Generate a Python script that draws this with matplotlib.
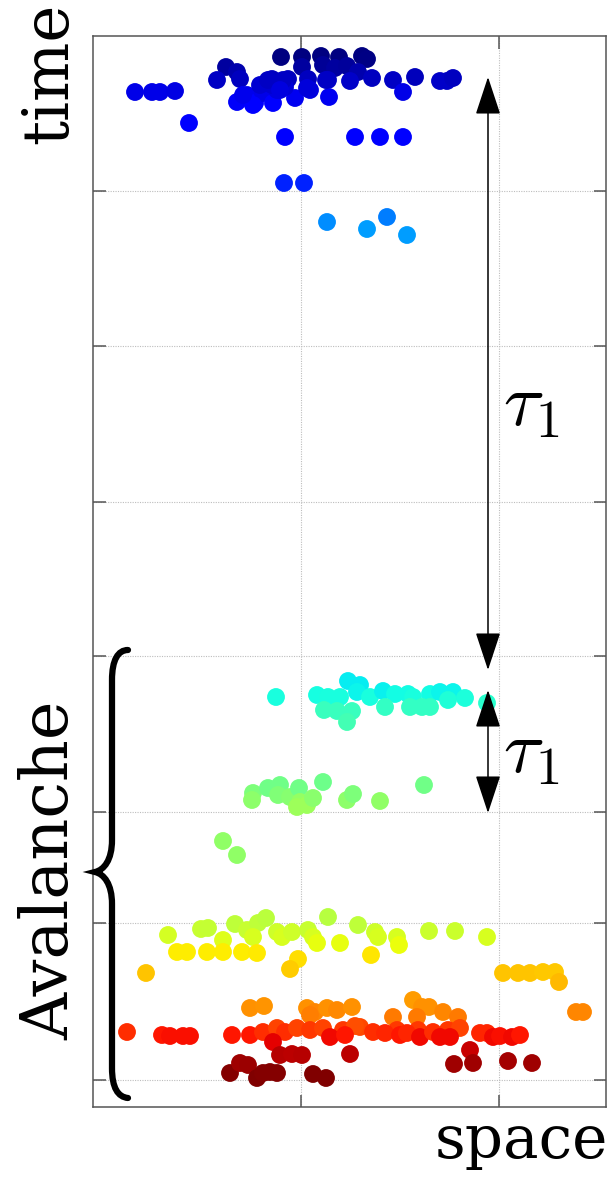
import numpy as np
import matplotlib.pyplot as plt
from matplotlib.path import Path
from matplotlib.patches import PathPatch

# Event positions (space, time); time axis runs downward
burst1_x = [281, 302, 321, 339, 362, 367, 302, 323, 335, 347, 358,
            226, 237, 217, 240, 272, 288, 308, 328, 350, 372, 393, 415, 403,
            440, 447, 453, 135, 152, 160, 175,
            237, 247, 255, 263, 273, 277, 295, 310, 329, 272, 285, 253, 243,
            260, 268, 283, 280, 307, 326,
            189, 285, 355, 380, 403, 284, 304, 327, 367, 387, 407]
burst1_t = [57, 57, 56, 57, 56, 59, 67, 65, 68, 66, 72,
            67, 72, 80, 79, 79, 79, 79, 80, 81, 78, 80, 77, 92,
            81, 81, 78, 92, 92, 92, 91,
            102, 95, 103, 93, 103, 90, 98, 90, 97, 85, 87, 105, 95,
            85, 80, 80, 90, 88, 80,
            123, 137, 137, 137, 137, 183, 183, 222, 229, 217, 235]

burst2_x = [276, 317, 328, 340, 348, 360, 357, 370, 383, 395, 408, 413,
            430, 440, 453, 448, 465, 487,
            324, 337, 352, 347, 385, 410, 422, 430,
            253, 252, 268, 280, 278, 290, 299, 300, 307, 313, 297, 323,
            347, 353, 380, 424, 223, 237]
burst2_t = [697, 695, 697, 697, 681, 685, 692, 697, 691, 694, 694, 697,
            694, 692, 692, 700, 698, 703,
            710, 711, 711, 722, 707, 707, 707, 707,
            793, 800, 788, 785, 795, 797, 788, 802, 805, 798, 807, 782,
            800, 794, 801, 785, 841, 855]

burst3_x = [168, 201, 208, 235, 247, 258, 266, 253, 277, 282, 292, 308,
            313, 317, 328, 340, 223, 358, 375, 378, 397, 399, 429, 455, 487, 371,
            177, 187, 207, 223, 242, 257, 298, 290, 146,
            503, 518, 530, 543, 555, 559, 576, 583,
            250, 264, 307, 315, 327, 337, 352, 310,
            413, 422, 429, 443, 458, 393, 417, 360, 397, 418, 448, 460,
            127, 162, 170, 183, 190, 232, 250, 263, 277, 285, 297, 310,
            323, 343, 355, 330, 345, 273,
            373, 385, 400, 407, 420, 433, 440, 450, 480, 487, 493, 500, 512, 520,
            280, 292, 302, 350, 230, 240, 248, 257, 263, 277, 270, 313, 326,
            470, 473, 454, 508, 532]
burst3_t = [935, 929, 928, 924, 930, 923, 918, 937, 932, 937, 932, 930,
            937, 943, 917, 943, 940, 925, 932, 937, 937, 945, 931, 931, 937, 955,
            952, 952, 952, 952, 952, 953, 959, 969, 973,
            973, 973, 973, 972, 972, 982, 1012, 1012,
            1008, 1006, 1008, 1012, 1008, 1010, 1007, 1015,
            1000, 1007, 1007, 1012, 1017, 1017, 1017, 1027, 1030, 1030, 1030, 1028,
            1032, 1035, 1036, 1036, 1036, 1035, 1035, 1032, 1028, 1032, 1028, 1030,
            1028, 1030, 1026, 1037, 1035, 1042,
            1032, 1033, 1035, 1033, 1037, 1032, 1037, 1037, 1033, 1033, 1037, 1036, 1037, 1035,
            1055, 1054, 1055, 1054, 1073, 1063, 1065, 1078, 1073, 1073, 1072, 1074, 1078,
            1050, 1063, 1064, 1061, 1063]

# colour scale (jet level) along time
color_t = [56, 80, 92, 103, 137, 183, 229, 690, 710, 790, 805, 850,
           925, 940, 952, 973, 1005, 1017, 1032, 1037, 1055, 1075]
color_lv = [0.0, 0.06, 0.09, 0.11, 0.12, 0.16, 0.28, 0.36, 0.42, 0.49, 0.54, 0.52,
            0.58, 0.62, 0.66, 0.70, 0.75, 0.78, 0.86, 0.90, 0.95, 1.0]

x_ticks = [301, 499]
t_ticks = [191, 346, 502, 656, 812, 923, 1080]

xs = np.array(burst1_x + burst2_x + burst3_x, dtype=float)
ts = np.array(burst1_t + burst2_t + burst3_t, dtype=float)
cs = np.interp(ts, color_t, color_lv)

plt.rcParams['font.family'] = 'DejaVu Serif'
plt.rcParams['mathtext.fontset'] = 'cm'

fig = plt.figure(figsize=(6.11, 11.78), dpi=100)
ax = fig.add_axes([93 / 611, 71 / 1178, 513 / 611, 1071 / 1178])
ax.set_xlim(93, 606)
ax.set_ylim(1107, 36)

ax.scatter(xs, ts, c=cs, cmap='jet', vmin=0, vmax=1, s=165, linewidths=0, zorder=3)

ax.set_xticks(x_ticks)
ax.set_yticks(t_ticks)
ax.tick_params(direction='in', length=9, width=1.1, colors='#555555',
               top=True, right=True, labelleft=False, labelbottom=False)
ax.grid(True, linestyle=(0, (1, 1.2)), color='#bdbdbd', linewidth=0.8)
for s in ax.spines.values():
    s.set_color('#555555')
    s.set_linewidth(1.1)

# interval arrows
arrow_kw = dict(arrowstyle='<|-|>,head_length=1.0,head_width=0.33', mutation_scale=24,
                color='black', lw=1.1, shrinkA=0, shrinkB=0)
ax.annotate('', xy=(488, 77), xytext=(488, 670), arrowprops=arrow_kw, zorder=4)
ax.annotate('', xy=(488, 690), xytext=(488, 813), arrowprops=arrow_kw, zorder=4)
ax.text(503, 405, r'$\tau_1$', fontsize=54, ha='left', va='center')
ax.text(503, 752, r'$\tau_1$', fontsize=54, ha='left', va='center')

# curly brace for the avalanche
verts = [(128, 650), (118, 650), (112, 660), (112, 680),
         (112, 840),
         (112, 860), (104, 870), (95, 872),
         (104, 874), (112, 884), (112, 904),
         (112, 1068),
         (112, 1088), (118, 1097), (128, 1098)]
codes = [Path.MOVETO, Path.CURVE4, Path.CURVE4, Path.CURVE4,
         Path.LINETO,
         Path.CURVE4, Path.CURVE4, Path.CURVE4,
         Path.CURVE4, Path.CURVE4, Path.CURVE4,
         Path.LINETO,
         Path.CURVE4, Path.CURVE4, Path.CURVE4]
ax.add_patch(PathPatch(Path(verts, codes), fill=False, lw=4.5, color='black',
                       capstyle='round', clip_on=False, zorder=5))

ax.text(50, 73, 'time', fontsize=45, rotation=90, ha='center', va='center', clip_on=False)
ax.text(50, 870, 'Avalanche', fontsize=47, rotation=90, ha='center', va='center', clip_on=False)
ax.text(608, 1158, 'space', fontsize=43, ha='right', va='baseline', clip_on=False)

fig.savefig('out.png', dpi=100)
